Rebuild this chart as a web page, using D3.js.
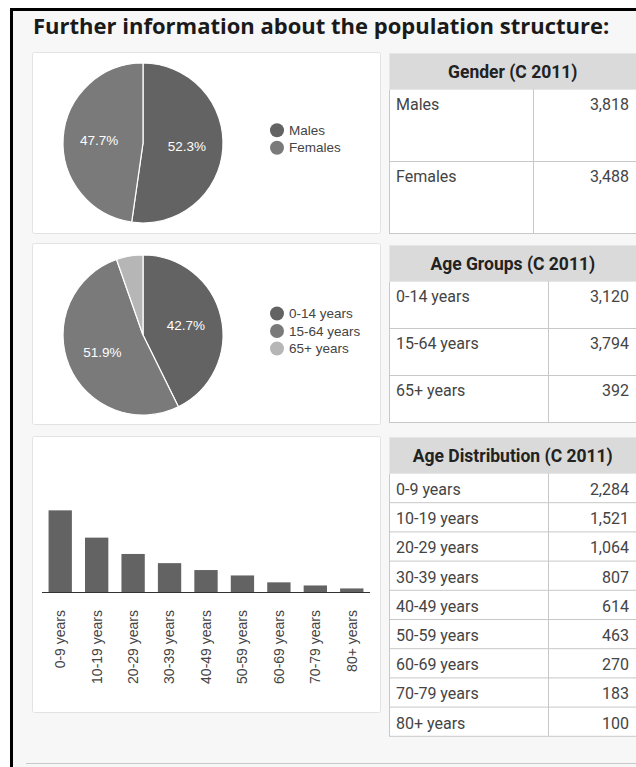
<!DOCTYPE html>
<html>
<head>
<meta charset="utf-8">
<script src="https://cdn.jsdelivr.net/npm/d3@7"></script>
<style>
  body { margin: 0; background: #fff; }
  svg { display: block; }
</style>
</head>
<body>
<div id="chart"></div>
<script>
// data
var genderLabels = ["Males", "Females"];
var genderValues = [3818, 3488];

var ageGroupLabels = ["0-14 years", "15-64 years", "65+ years"];
var ageGroupValues = [3120, 3794, 392];

var ageDistLabels = ["0-9 years", "10-19 years", "20-29 years", "30-39 years", "40-49 years",
                     "50-59 years", "60-69 years", "70-79 years", "80+ years"];
var ageDistValues = [2284, 1521, 1064, 807, 614, 463, 270, 183, 100];

var pieColors = ["#636363", "#7a7a7a", "#b6b6b6"];

var w = 636, h = 767;

var svg = d3.select("#chart")
  .append("svg")
  .attr("width", w)
  .attr("height", h);

// page frame
svg.append("rect")
  .attr("x", 11.5).attr("y", 9.5)
  .attr("width", w).attr("height", h)
  .style("fill", "#f7f7f7")
  .style("stroke", "#000")
  .style("stroke-width", 3);

svg.append("text")
  .attr("x", 33).attr("y", 34)
  .style("font-family", "Open Sans")
  .style("font-weight", "bold")
  .style("font-size", "22px")
  .style("fill", "#1a1a1a")
  .text("Further information about the population structure:");

svg.append("line")
  .attr("x1", 26).attr("x2", w)
  .attr("y1", 763.5).attr("y2", 763.5)
  .style("stroke", "#c8c8c8");

function panel(y, hgt) {
  svg.append("rect")
    .attr("x", 32.5).attr("y", y + 0.5)
    .attr("width", 348).attr("height", hgt)
    .attr("rx", 2)
    .style("fill", "#fff")
    .style("stroke", "#e3e3e3");
}

function drawPie(cy, labels, values) {
  var cx = 143, r = 80;
  var g = svg.append("g").attr("transform", "translate(" + cx + "," + cy + ")");
  var total = d3.sum(values);
  var pie = d3.pie().sort(null)(values);
  var arc = d3.arc().innerRadius(0).outerRadius(r);
  var labelArc = d3.arc().innerRadius(44).outerRadius(44);

  g.selectAll("path")
    .data(pie)
    .enter().append("path")
    .attr("d", arc)
    .style("fill", function(d, i) { return pieColors[i]; })
    .style("stroke", "#fff")
    .style("stroke-width", 1.2);

  g.selectAll("text.pct")
    .data(pie.filter(function(d) { return d.value / total > 0.1; }))
    .enter().append("text")
    .attr("class", "pct")
    .attr("transform", function(d) { return "translate(" + labelArc.centroid(d) + ")"; })
    .attr("dy", "0.35em")
    .attr("text-anchor", "middle")
    .style("font-family", "Arial, Liberation Sans")
    .style("font-size", "13.5px")
    .style("fill", "#fff")
    .text(function(d) { return (d.value / total * 100).toFixed(1) + "%"; });

  // legend
  var step = 17.5;
  var y0 = cy - 4 - (labels.length - 1) * step / 2;
  var leg = svg.append("g");
  labels.forEach(function(l, i) {
    leg.append("circle")
      .attr("cx", 277).attr("cy", y0 + i * step)
      .attr("r", 7)
      .style("fill", pieColors[i]);
    leg.append("text")
      .attr("x", 289).attr("y", y0 + i * step)
      .attr("dy", "0.35em")
      .style("font-family", "Arial, Liberation Sans")
      .style("font-size", "13.5px")
      .style("fill", "#444")
      .text(l);
  });
}

function drawTable(top, headH, title, labels, values, rowH, colX, textOff) {
  var x0 = 389.5, x1 = 640;
  var fmt = d3.format(",");
  var g = svg.append("g");
  var bottom = top + headH + rowH * labels.length;
  g.append("rect")
    .attr("x", x0).attr("y", top + 0.5)
    .attr("width", x1 - x0).attr("height", headH)
    .style("fill", "#dadada");
  g.append("rect")
    .attr("x", x0).attr("y", top + headH + 0.5)
    .attr("width", x1 - x0).attr("height", rowH * labels.length)
    .style("fill", "#fff")
    .style("stroke", "#c8c8c8");
  g.append("rect")
    .attr("x", x0).attr("y", top + 0.5)
    .attr("width", x1 - x0).attr("height", headH)
    .style("fill", "none")
    .style("stroke", "#e6e6e6");
  g.append("text")
    .attr("x", (x0 + 636) / 2).attr("y", top + headH / 2 + 1)
    .attr("dy", "0.35em")
    .attr("text-anchor", "middle")
    .style("font-family", "Roboto")
    .style("font-weight", "bold")
    .style("font-size", "17.5px")
    .style("fill", "#222")
    .text(title);
  g.append("line")
    .attr("x1", colX + 0.5).attr("x2", colX + 0.5)
    .attr("y1", top + headH).attr("y2", bottom)
    .style("stroke", "#c8c8c8");
  labels.forEach(function(l, i) {
    var ry = top + headH + i * rowH;
    if (i > 0) {
      g.append("line")
        .attr("x1", x0).attr("x2", x1)
        .attr("y1", ry + 0.5).attr("y2", ry + 0.5)
        .style("stroke", "#c8c8c8");
    }
    g.append("text")
      .attr("x", 396).attr("y", ry + textOff)
      .style("font-family", "Roboto")
      .style("font-size", "16px")
      .style("fill", "#444")
      .text(l);
    g.append("text")
      .attr("x", 629).attr("y", ry + textOff)
      .attr("text-anchor", "end")
      .style("font-family", "Roboto")
      .style("font-size", "16px")
      .style("fill", "#444")
      .text(fmt(values[i]));
  });
}

// panel 1: gender
panel(52, 181);
drawPie(143, genderLabels, genderValues);
drawTable(53, 36, "Gender (C 2011)", genderLabels, genderValues, 72, 533, 21);

// panel 2: age groups
panel(243, 181);
drawPie(335, ageGroupLabels, ageGroupValues);
drawTable(245, 36, "Age Groups (C 2011)", ageGroupLabels, ageGroupValues, 47, 548, 21);

// panel 3: age distribution bars
panel(436, 276);
var x = d3.scaleBand()
  .domain(ageDistLabels)
  .range([42, 370])
  .paddingInner(0.36)
  .paddingOuter(0.18);
var y = d3.scaleLinear()
  .domain([0, 4000])
  .range([592, 449]);

svg.append("g")
  .selectAll("rect")
  .data(ageDistValues)
  .enter().append("rect")
  .attr("x", function(d, i) { return x(ageDistLabels[i]); })
  .attr("y", function(d) { return y(d); })
  .attr("width", x.bandwidth())
  .attr("height", function(d) { return y(0) - y(d); })
  .style("fill", "#636363");

var xAxis = svg.append("g")
  .attr("transform", "translate(0," + y(0) + ")")
  .call(d3.axisBottom(x).tickSize(0).tickPadding(0));
xAxis.select(".domain")
  .attr("d", "M42,0.5H370")
  .style("stroke", "#333");
xAxis.selectAll("text")
  .attr("transform", "rotate(-90)")
  .attr("x", -18)
  .attr("y", 0)
  .attr("dy", "0.35em")
  .attr("text-anchor", "end")
  .style("font-family", "Arial, Liberation Sans")
  .style("font-size", "14px")
  .style("fill", "#444");

drawTable(437, 36, "Age Distribution (C 2011)", ageDistLabels, ageDistValues, 29.2, 548, 22);
</script>
</body>
</html>
